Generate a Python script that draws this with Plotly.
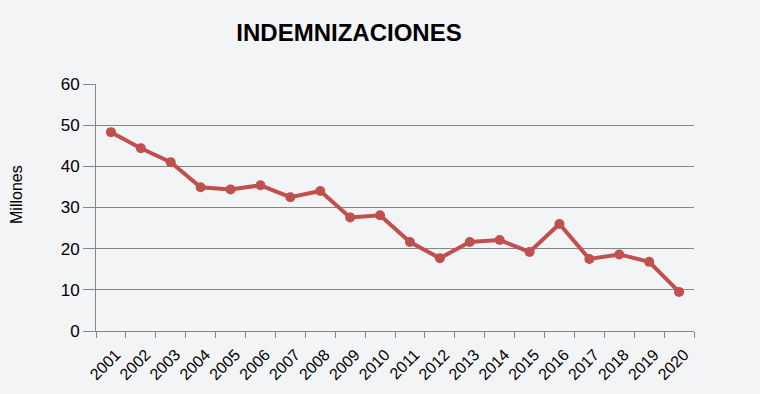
import plotly.graph_objects as go

years = ["2001", "2002", "2003", "2004", "2005", "2006", "2007", "2008", "2009", "2010",
         "2011", "2012", "2013", "2014", "2015", "2016", "2017", "2018", "2019", "2020"]
millones = [48.3, 44.4, 41.0, 34.9, 34.4, 35.4, 32.5, 34.0, 27.6, 28.1,
            21.6, 17.7, 21.6, 22.1, 19.2, 26.0, 17.5, 18.6, 16.8, 9.5]
y_ticks = [0, 10, 20, 30, 40, 50, 60]

BG = "#F3F4F6"
RED = "#C0504D"
GRID = "#868686"
FONT = "Liberation Sans"

fig = go.Figure()
fig.add_trace(go.Scatter(
    x=years, y=millones, mode="lines+markers",
    line=dict(color=RED, width=4),
    marker=dict(color=RED, size=10),
    showlegend=False,
))

fig.update_layout(
    width=760, height=394,
    margin=dict(l=96, r=66, t=84, b=63),
    paper_bgcolor=BG, plot_bgcolor=BG,
    font=dict(family=FONT, color="#000000"),
    title=dict(text="<b>INDEMNIZACIONES</b>", x=349/760, xanchor="center",
               y=1 - 33/394, yanchor="middle",
               font=dict(family=FONT, size=24, color="#000000")),
    xaxis=dict(
        type="category", tickson="boundaries", ticks="outside", ticklen=6,
        tickcolor=GRID, showline=True, linecolor=GRID, linewidth=1,
        showgrid=False, tickangle=-45, tickfont=dict(size=16),
        ticklabelstandoff=7, ticklabelshift=5, automargin=False,
        range=[-0.5, 19.5],
    ),
    yaxis=dict(
        range=[0, 60], tickvals=y_ticks, ticks="outside", ticklen=12,
        tickcolor=GRID, showline=True, linecolor=GRID, linewidth=1,
        showgrid=True, gridcolor=GRID, gridwidth=1, zeroline=False,
        tickfont=dict(size=17), automargin=False,
    ),
    annotations=[dict(
        text="Millones", textangle=-90, xref="paper", yref="paper",
        x=(16 - 96) / 598, y=(331 - 195) / 247, xanchor="center", yanchor="middle",
        showarrow=False, font=dict(family=FONT, size=16, color="#000000"),
    )],
)

fig.write_html("out.html",
               config={"displayModeBar": False},
               post_script="document.body.style.margin='0';document.body.style.background='" + BG + "';")
